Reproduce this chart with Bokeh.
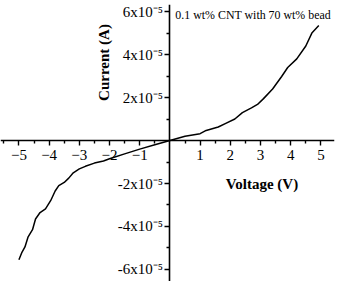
from bokeh.plotting import figure
from bokeh.models import FixedTicker, Label, Range1d
from bokeh.embed import file_html
from bokeh.resources import INLINE

# I-V data
voltage = [-5.0, -4.9, -4.8, -4.7, -4.55, -4.45, -4.3, -4.12, -3.95, -3.8, -3.68,
           -3.5, -3.35, -3.2, -3.0, -2.8, -2.5, -2.2, -2.0, -1.5, -1.0, -0.5, 0.0,
           0.5, 1.0, 1.2, 1.6, 1.85, 2.15, 2.4, 2.7, 2.9, 3.1, 3.4, 3.7, 3.9,
           4.2, 4.5, 4.7, 4.8, 4.93]
current = [-5.55e-5, -5.2e-5, -4.95e-5, -4.5e-5, -4.15e-5, -3.65e-5, -3.35e-5, -3.18e-5,
           -2.8e-5, -2.35e-5, -2.1e-5, -1.95e-5, -1.75e-5, -1.5e-5, -1.32e-5, -1.2e-5,
           -1.05e-5, -0.95e-5, -0.85e-5, -0.62e-5, -0.4e-5, -0.2e-5, 0.0,
           0.2e-5, 0.32e-5, 0.47e-5, 0.63e-5, 0.8e-5, 1.0e-5, 1.3e-5, 1.52e-5, 1.68e-5,
           1.95e-5, 2.4e-5, 2.98e-5, 3.4e-5, 3.8e-5, 4.4e-5, 5.0e-5, 5.15e-5, 5.35e-5]

x_ticks = [-5, -4, -3, -2, -1, 1, 2, 3, 4, 5]
x_minor = [-5.5, -4.5, -3.5, -2.5, -1.5, -0.5, 0.5, 1.5, 2.5, 3.5, 4.5, 5.5]
y_ticks = [-6e-5, -4e-5, -2e-5, 2e-5, 4e-5, 6e-5]
y_tick_labels = ["-6x10\u207b\u2075", "-4x10\u207b\u2075", "-2x10\u207b\u2075",
                 "2x10\u207b\u2075", "4x10\u207b\u2075", "6x10\u207b\u2075"]
y_minor = [-5e-5, -3e-5, -1e-5, 1e-5, 3e-5, 5e-5]

x_label = "Voltage (V)"
y_label = "Current (A)"
note = "0.1 wt% CNT with 70 wt% bead"

FONT = "Liberation Serif"

p = figure(width=354, height=281, output_backend="svg", toolbar_location=None,
           x_range=Range1d(-5.61, 5.45), y_range=Range1d(-6.56e-5, 6.33e-5),
           min_border_left=0, min_border_right=20, min_border_top=4, min_border_bottom=0)
p.outline_line_color = None
p.xgrid.visible = False
p.ygrid.visible = False
p.background_fill_color = "white"
p.border_fill_color = "white"

p.line(voltage, current, line_color="black", line_width=1.5, line_join="round")

for ax in (p.xaxis[0], p.yaxis[0]):
    ax.fixed_location = 0
    ax.axis_line_width = 1.6
    ax.axis_line_color = "black"
    ax.major_tick_line_width = 1.4
    ax.minor_tick_line_width = 1.4
    ax.major_tick_line_color = "black"
    ax.minor_tick_line_color = "black"
    ax.major_tick_in = 0
    ax.major_tick_out = 5
    ax.minor_tick_in = 0
    ax.minor_tick_out = 3
    ax.major_label_text_font = FONT
    ax.major_label_text_font_size = "15px"
    ax.major_label_text_color = "black"

p.xaxis[0].ticker = FixedTicker(ticks=x_ticks, minor_ticks=x_minor)
p.xaxis[0].major_label_standoff = 4
p.yaxis[0].ticker = FixedTicker(ticks=y_ticks, minor_ticks=y_minor)
p.yaxis[0].major_label_overrides = {t: l for t, l in zip(y_ticks, y_tick_labels)}
p.yaxis[0].major_label_standoff = 2

p.add_layout(Label(x=3.05, y=-2.0e-5, text=x_label, text_align="center",
                   text_baseline="middle", text_font=FONT, text_font_style="bold",
                   text_font_size="15px", text_color="black"))
p.add_layout(Label(x=-2.17, y=3.63e-5, text=y_label, text_align="center",
                   text_baseline="middle", angle=1.5708, text_font=FONT,
                   text_font_style="bold", text_font_size="15px", text_color="black"))
p.add_layout(Label(x=0.18, y=5.83e-5, text=note, text_align="left",
                   text_baseline="middle", text_font=FONT, text_font_size="11.9px",
                   text_color="black"))

open("out.html", "w").write(file_html(p, INLINE))
